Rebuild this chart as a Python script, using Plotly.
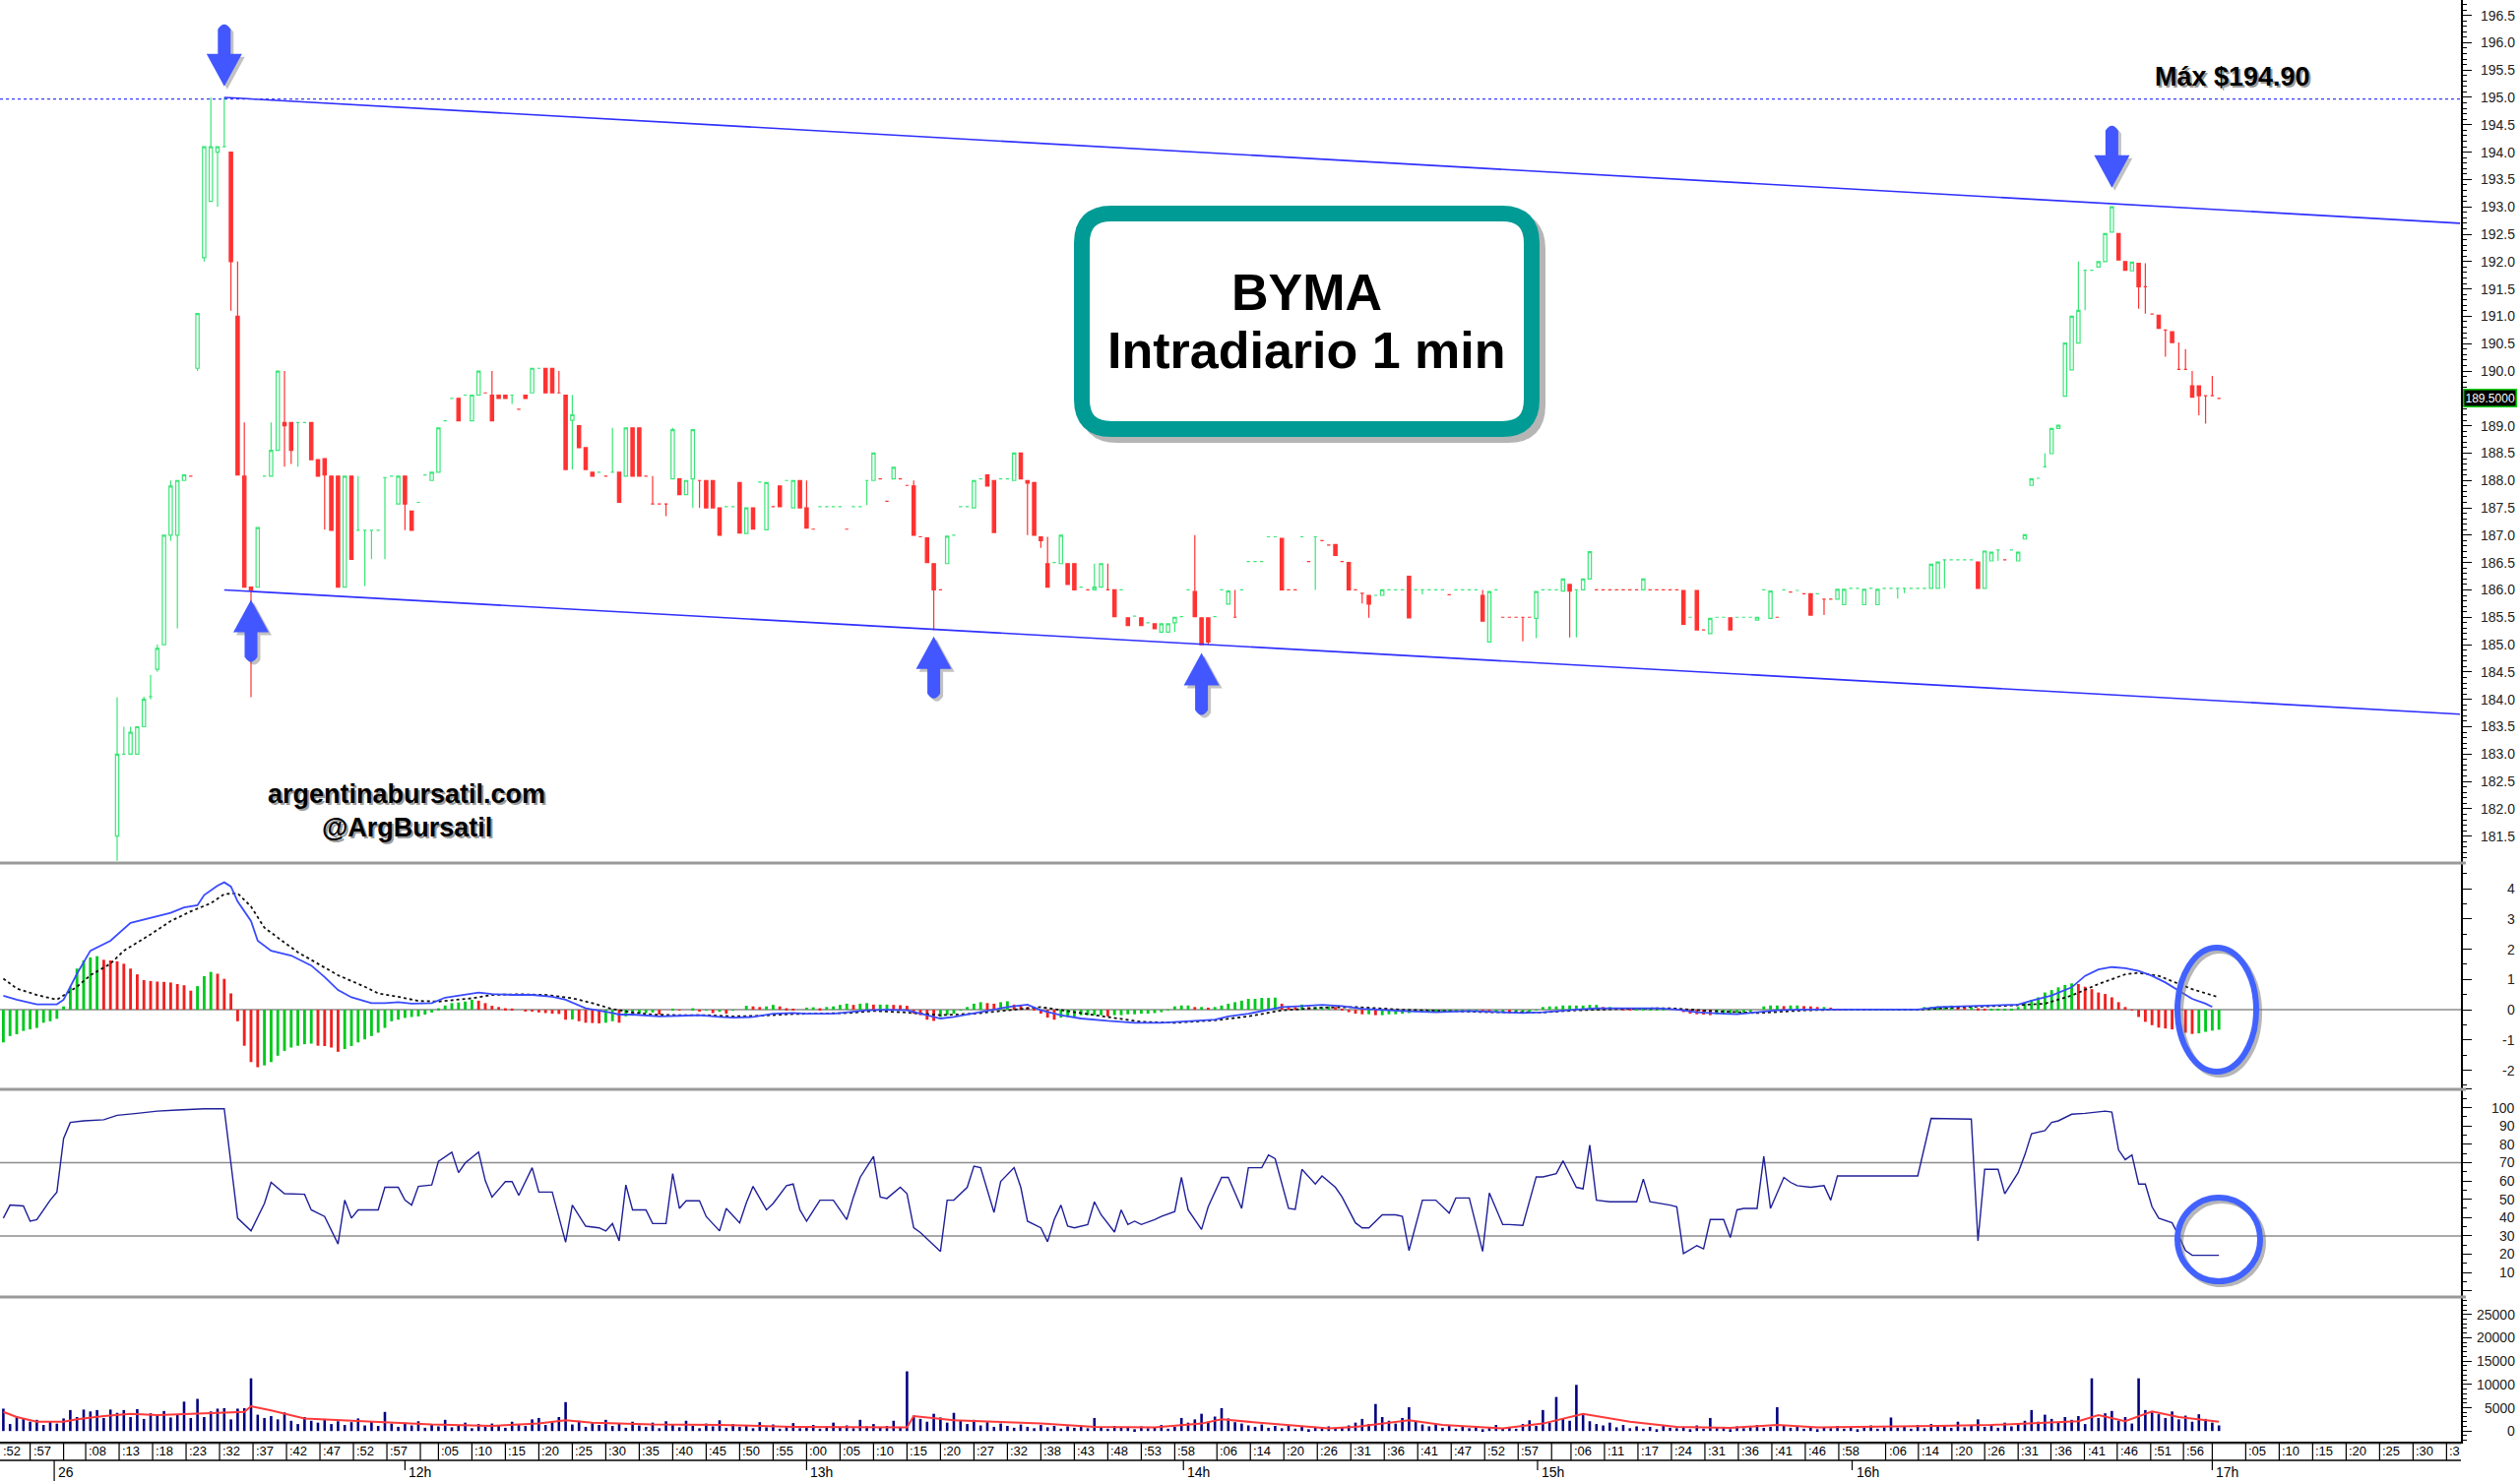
import plotly.graph_objects as go

# ---------------- DATA ----------------
first_candle_bar = 17
opens = [
    181.50,183.00,183.00,183.00,183.50,184.05,184.55,185.00,187.00,187.00,
    188.00,188.08,190.05,192.07,193.10,194.00,194.10,194.00,191.00,188.08,
    186.05,186.05,188.08,188.08,188.55,189.06,189.06,189.06,189.06,189.06,
    188.38,188.40,188.08,188.08,186.05,188.08,187.09,187.09,187.09,187.09,
    188.05,188.08,187.57,188.08,187.44,187.60,188.10,188.00,188.15,189.09,
    189.50,189.50,189.56,189.09,189.56,189.60,189.56,189.56,189.56,189.56,
    189.30,189.56,189.60,190.05,190.05,190.05,189.60,189.56,189.10,189.00,
    188.60,188.15,188.15,188.08,188.15,188.15,188.08,188.96,188.96,188.08,
    187.57,187.57,187.57,188.03,188.03,187.74,188.03,188.00,188.00,188.00,
    187.50,187.52,187.52,187.96,187.03,187.50,187.97,187.10,187.52,187.90,
    188.00,187.50,188.00,187.50,187.11,187.52,187.52,187.52,187.52,187.11,
    187.52,187.52,188.00,188.00,188.03,187.62,188.03,188.03,187.91,187.90,
    186.97,186.95,186.48,186.00,186.48,187.00,187.52,187.52,187.50,188.03,
    188.10,188.00,188.03,188.03,188.00,188.50,188.00,187.96,186.97,186.48,
    186.50,186.48,186.48,186.48,186.05,186.00,186.00,186.05,186.00,186.00,
    186.00,185.49,185.52,185.49,185.40,185.38,185.23,185.23,185.40,185.51,
    186.00,185.97,185.49,185.49,185.51,186.00,185.74,185.50,186.00,186.52,
    186.52,186.52,186.97,186.97,186.94,186.00,186.00,186.97,186.52,186.97,
    186.90,186.82,186.83,186.52,186.50,186.00,185.94,185.90,185.90,185.90,
    186.00,186.00,186.00,186.25,186.00,186.00,186.00,186.00,186.00,185.91,
    186.00,186.00,186.00,186.00,185.90,185.05,186.00,185.50,185.50,185.50,
    185.50,185.50,185.48,186.00,186.00,186.00,185.98,186.10,186.00,186.00,
    186.20,186.00,186.00,186.00,186.00,186.00,186.00,186.00,186.00,186.00,
    186.00,186.00,186.00,186.00,185.99,185.50,185.99,185.27,185.20,185.50,
    185.50,185.49,185.50,185.50,185.50,185.45,186.00,185.48,185.50,186.00,
    185.96,185.99,185.93,185.93,185.93,185.83,185.83,185.83,185.73,186.03,
    186.03,185.73,186.03,185.73,186.03,186.03,186.03,186.03,186.03,186.03,
    186.03,186.03,186.03,186.55,186.55,186.55,186.55,186.55,186.51,186.03,
    186.53,186.73,186.55,186.73,186.53,186.93,187.91,188.04,188.25,188.49,
    188.95,189.54,190.02,190.51,191.84,191.84,191.90,192.00,192.54,192.51,
    192.00,191.83,191.97,191.54,191.04,191.02,190.75,190.72,190.03,190.03,
    189.73,189.73,189.55,189.55,189.50,
]
highs = [
    184.04,183.50,183.50,183.50,184.05,184.45,185.00,187.00,188.00,188.00,
    188.10,188.08,191.05,194.10,195.00,194.10,195.00,194.00,192.00,189.06,
    186.05,187.14,188.08,189.06,190.00,190.00,189.06,189.06,189.06,189.06,
    188.38,188.40,188.08,188.08,188.08,188.08,188.08,187.09,187.09,187.09,
    188.05,188.08,188.08,188.08,187.44,187.60,188.10,188.15,188.96,189.09,
    189.50,189.50,189.56,189.56,190.00,189.60,190.00,189.56,189.56,189.56,
    189.30,189.56,190.05,190.05,190.05,190.05,190.00,189.56,189.56,189.00,
    188.60,188.15,188.15,188.08,188.96,188.15,188.96,188.96,188.96,188.08,
    188.08,187.57,187.57,188.96,188.03,188.00,188.93,188.00,188.00,188.00,
    187.50,187.52,187.52,187.96,187.50,187.50,187.97,187.96,187.52,187.90,
    188.00,188.00,188.00,188.00,187.11,187.52,187.52,187.52,187.52,187.11,
    187.52,187.52,188.00,188.50,188.03,187.62,188.24,188.03,187.91,188.00,
    186.97,186.95,186.48,186.00,186.98,187.00,187.52,187.52,188.00,188.03,
    188.10,188.00,188.03,188.03,188.50,188.50,188.00,187.96,186.97,186.97,
    186.50,187.00,186.48,186.48,186.05,186.00,186.48,186.48,186.48,186.00,
    186.00,185.49,185.52,185.49,185.40,185.38,185.38,185.38,185.50,185.51,
    186.00,187.00,185.49,185.49,185.51,186.00,186.00,186.00,186.00,186.52,
    186.52,186.52,186.97,186.97,186.94,186.00,186.00,186.97,186.52,186.97,
    186.90,186.82,186.83,186.52,186.50,186.00,185.94,185.90,185.90,186.00,
    186.00,186.00,186.00,186.25,186.00,186.00,186.00,186.00,186.00,185.91,
    186.00,186.00,186.00,186.00,186.00,185.97,186.00,185.50,185.50,185.50,
    185.50,185.50,185.97,186.00,186.00,186.00,186.20,186.10,186.00,186.20,
    186.70,186.00,186.00,186.00,186.00,186.00,186.00,186.00,186.20,186.00,
    186.00,186.00,186.00,186.00,185.99,185.50,185.99,185.27,185.48,185.50,
    185.50,185.49,185.50,185.50,185.50,185.50,186.00,185.98,185.50,186.00,
    185.96,185.99,185.93,185.93,185.93,185.83,185.83,186.01,186.01,186.03,
    186.03,186.01,186.03,186.01,186.03,186.03,186.03,186.03,186.03,186.03,
    186.03,186.47,186.51,186.55,186.55,186.55,186.55,186.55,186.51,186.71,
    186.69,186.73,186.55,186.73,186.69,187.01,188.03,188.04,188.50,188.95,
    189.01,190.51,191.00,192.00,191.84,191.84,192.00,192.51,193.01,192.51,
    192.00,191.99,191.97,191.97,191.04,191.02,190.75,190.72,190.52,190.40,
    190.00,189.73,189.55,189.91,189.50,
]
lows = [
    181.05,183.00,183.00,183.00,183.50,184.00,184.50,185.00,186.90,185.30,
    188.00,188.08,190.00,192.00,193.10,193.00,194.10,191.10,188.10,186.05,
    184.04,186.05,188.08,188.08,188.55,188.25,188.30,188.25,189.06,188.38,
    188.08,187.10,187.09,186.05,186.05,186.56,187.09,186.07,186.56,187.09,
    186.56,188.08,187.57,187.09,187.09,187.60,188.10,188.00,188.15,189.09,
    189.50,189.09,189.56,189.09,189.56,189.60,189.09,189.50,189.50,189.40,
    189.30,189.50,189.60,190.05,189.60,189.60,189.60,188.20,188.20,188.60,
    188.20,188.08,188.15,188.08,188.15,187.60,188.08,188.08,188.08,188.08,
    187.57,187.57,187.35,188.03,187.74,187.74,187.50,187.50,187.50,187.50,
    187.00,187.52,187.52,187.04,187.03,187.11,187.97,187.10,187.52,187.52,
    188.00,187.50,187.50,187.13,187.11,187.52,187.52,187.52,187.52,187.11,
    187.52,187.52,187.55,188.00,188.03,187.62,188.03,188.03,187.91,187.00,
    186.97,186.50,185.26,186.00,186.48,187.00,187.52,187.52,187.50,188.03,
    187.90,187.05,188.03,188.03,188.00,188.03,187.00,187.00,186.77,186.05,
    186.50,186.48,186.10,186.00,186.05,186.00,186.00,186.05,186.00,185.51,
    186.00,185.35,185.52,185.35,185.40,185.29,185.23,185.23,185.23,185.51,
    186.00,185.51,184.99,185.00,185.51,186.00,185.74,185.50,186.00,186.52,
    186.52,186.52,186.97,186.97,186.00,186.00,186.00,186.97,186.52,186.00,
    186.90,186.82,186.63,186.52,186.00,186.00,185.75,185.49,185.90,185.90,
    186.00,186.00,186.00,185.49,186.00,185.92,186.00,186.00,186.00,185.91,
    186.00,186.00,186.00,186.00,185.43,185.05,186.00,185.50,185.50,185.50,
    185.06,185.50,185.12,186.00,186.00,186.00,185.98,185.13,185.13,186.00,
    186.20,186.00,186.00,186.00,186.00,186.00,186.00,186.00,186.00,186.00,
    186.00,186.00,186.00,186.00,185.37,185.50,185.27,185.27,185.20,185.50,
    185.50,185.27,185.50,185.50,185.50,185.45,186.00,185.48,185.50,186.00,
    185.96,185.99,185.93,185.54,185.93,185.54,185.83,185.83,185.73,186.03,
    186.03,185.73,186.03,185.73,186.03,186.03,185.84,185.94,186.03,186.03,
    186.03,186.03,186.03,186.03,186.55,186.55,186.55,186.55,186.03,186.03,
    186.53,186.53,186.55,186.73,186.53,186.93,187.91,188.04,188.25,188.49,
    188.95,189.54,190.02,190.51,191.11,191.84,191.90,192.00,192.54,192.03,
    191.84,191.83,191.14,191.05,191.04,190.78,190.26,190.52,190.03,190.03,
    189.52,189.19,189.04,189.55,189.50,
]
closes = [
    183.00,183.00,183.40,183.50,184.00,184.05,184.93,187.00,187.90,188.00,
    188.10,188.08,191.05,194.10,194.10,194.10,194.10,192.00,188.10,186.05,
    186.00,187.14,188.08,188.55,190.00,189.00,188.55,189.06,189.06,188.38,
    188.08,188.10,187.09,186.05,188.08,186.56,187.09,187.09,187.09,187.09,
    188.05,188.08,188.08,187.57,187.09,187.60,188.10,188.15,188.96,189.09,
    189.50,189.09,189.56,189.56,190.00,189.60,189.09,189.50,189.50,189.56,
    189.30,189.50,190.05,190.05,189.60,189.60,189.60,188.20,189.20,188.60,
    188.20,188.08,188.15,188.08,188.15,187.60,188.96,188.08,188.08,188.08,
    187.57,187.57,187.57,188.93,187.74,188.00,188.93,188.00,187.50,187.50,
    187.00,187.52,187.52,187.04,187.50,187.11,187.97,187.96,187.52,187.52,
    188.00,188.00,187.50,187.13,187.11,187.52,187.52,187.52,187.52,187.11,
    187.52,187.52,188.00,188.50,188.03,187.62,188.24,188.03,187.91,187.00,
    186.97,186.50,186.00,186.00,186.98,187.00,187.52,187.52,188.00,188.03,
    187.90,187.05,188.03,188.03,188.50,188.03,187.95,187.00,186.90,186.05,
    186.50,187.00,186.10,186.00,186.05,186.00,186.05,186.48,186.00,185.51,
    186.00,185.35,185.52,185.35,185.40,185.29,185.38,185.38,185.50,185.51,
    186.00,185.51,185.00,185.05,185.51,186.00,185.98,185.50,186.00,186.52,
    186.52,186.52,186.97,186.97,186.00,186.00,186.00,186.97,186.52,186.97,
    186.90,186.82,186.63,186.52,186.00,186.00,185.94,185.74,185.90,186.00,
    186.00,186.00,186.00,185.49,186.00,186.00,186.00,186.00,186.00,185.91,
    186.00,186.00,186.00,186.00,185.43,185.97,186.00,185.50,185.50,185.50,
    185.50,185.50,185.97,186.00,186.00,186.00,186.20,185.98,186.00,186.20,
    186.70,186.00,186.00,186.00,186.00,186.00,186.00,186.00,186.20,186.00,
    186.00,186.00,186.00,186.00,185.37,185.50,185.27,185.27,185.48,185.50,
    185.50,185.27,185.50,185.50,185.50,185.50,186.00,185.98,185.50,186.00,
    185.96,185.99,185.93,185.54,185.93,185.83,185.83,186.01,186.01,186.03,
    186.03,186.01,186.03,186.01,186.03,186.03,186.03,186.03,186.03,186.03,
    186.03,186.47,186.51,186.55,186.55,186.55,186.55,186.55,186.03,186.71,
    186.69,186.73,186.55,186.73,186.69,187.01,188.03,188.04,188.25,188.95,
    189.01,190.51,191.00,191.11,191.84,191.84,192.00,192.51,193.00,192.03,
    191.84,191.99,191.54,191.54,191.04,190.78,190.75,190.52,190.03,190.03,
    189.52,189.55,189.55,189.55,189.50,
]

volume = [
    4800,1500,3200,2600,2000,2400,1300,2100,1600,2700,
    4500,3000,4600,4200,4500,2800,4600,3900,4500,3000,
    4700,2600,3800,3300,4300,2900,3500,6300,2800,6900,
    3000,4200,4800,4900,2500,4800,4900,11300,3500,2800,
    3200,2500,4000,2200,1500,3000,2200,1800,2600,1500,
    2100,1300,1900,2700,1200,2000,1100,4100,1600,900,
    1800,1200,2100,700,1500,1000,2400,800,1300,1800,
    600,1500,900,1600,1200,700,2000,1400,1100,2500,
    2800,1300,1900,3000,6200,1400,2200,900,1700,1300,
    2400,1100,1600,700,2000,1200,900,1800,600,2100,
    1300,800,2200,1100,600,1600,1000,2300,700,1500,
    900,1200,600,1900,800,1400,500,1100,1700,600,
    900,1300,500,1000,1800,700,1200,600,2400,1000,
    1500,800,1100,2200,900,12800,3300,2600,2000,3700,
    2900,1800,3900,2200,1500,2400,1200,1900,900,1600,
    1100,700,1400,900,600,1300,800,1100,500,1000,
    700,1200,600,2800,900,500,1100,700,900,400,
    1000,600,800,1300,500,900,2800,1800,2500,3700,
    2000,3100,4900,2700,1900,1600,1200,900,1400,700,
    1100,600,1300,500,900,400,800,600,1000,500,
    700,1200,1800,2600,1500,5800,3000,2200,1600,2800,
    5100,2000,1400,1000,1600,700,1200,500,900,600,
    1100,400,800,1300,600,900,500,1500,2300,1100,
    4500,1800,7300,2600,2200,9900,3400,2100,1500,1200,
    1800,800,1300,600,1000,500,900,400,1100,700,
    600,900,400,1200,500,2800,700,900,400,1000,
    600,800,1300,700,900,5100,1200,700,1000,500,
    900,400,800,600,1100,500,900,400,700,1200,
    500,800,2900,700,1000,500,1300,600,1500,900,
    1200,700,2000,800,1100,2500,900,1400,700,1800,
    1000,1600,2200,4500,2000,3500,2600,1800,3000,2400,
    3200,1500,11300,2800,3800,4300,2200,3000,1600,11300,
    4500,4000,3600,2800,4200,2500,3300,2000,3600,2600,
    1800,1200,
]
vol_ma_bars = [0,2,5,9,11,15,19,23,28,32,36,37,40,45,51,58,64,73,80,84,88,97,107,118,129,
               135,136,142,148,155,163,172,179,182,189,198,202,210,215,224,230,236,243,250,
               258,265,271,280,289,297,304,310,313,317,321,325,331]
vol_ma_vals = [4100,3000,2000,2000,2500,3200,3700,3400,3700,3900,4100,5300,4400,2700,2300,
               1800,1400,1100,1600,2300,1800,1400,1300,900,800,800,3200,2300,2000,1600,900,
               800,1600,2500,1600,560,900,2300,1300,560,1600,3700,2000,900,700,1300,800,900,
               1100,1300,1800,2100,3400,2100,4200,3000,2000]

macd_hist = [
    -1.08,-0.87,-0.81,-0.70,-0.65,-0.60,-0.43,-0.38,-0.30,0.11,
    0.76,1.36,1.63,1.73,1.77,1.65,1.63,1.60,1.52,1.36,
    1.17,0.98,0.95,0.93,0.92,0.90,0.85,0.81,0.63,0.78,
    1.11,1.25,1.19,1.02,0.54,-0.38,-1.19,-1.73,-1.90,-1.84,
    -1.73,-1.52,-1.36,-1.25,-1.19,-1.14,-1.12,-1.19,-1.20,-1.25,
    -1.39,-1.30,-1.20,-1.08,-0.98,-0.87,-0.76,-0.60,-0.38,-0.33,
    -0.27,-0.24,-0.22,-0.16,-0.09,0.05,0.14,0.22,0.24,0.27,
    0.33,0.30,0.22,0.13,0.09,0.05,0.04,0.00,-0.03,-0.05,
    -0.09,-0.11,-0.13,-0.14,-0.33,-0.32,-0.38,-0.43,-0.44,-0.45,
    -0.43,-0.38,-0.43,-0.22,-0.20,-0.13,-0.11,-0.09,-0.16,0.00,
    0.02,-0.02,0.00,0.05,-0.05,-0.02,-0.11,-0.07,-0.13,-0.02,
    0.00,0.13,0.11,0.09,0.11,0.16,0.11,0.05,0.02,0.00,
    0.07,0.08,0.05,0.09,0.11,0.16,0.20,0.16,0.20,0.22,
    0.17,0.17,0.17,0.16,0.15,0.13,-0.13,-0.18,-0.33,-0.37,
    -0.24,-0.18,-0.13,-0.02,0.09,0.20,0.25,0.22,0.20,0.25,
    0.28,0.17,0.16,0.09,0.05,-0.13,-0.26,-0.33,-0.26,-0.24,
    -0.23,-0.18,-0.18,-0.18,-0.18,-0.22,-0.18,-0.18,-0.15,-0.15,
    -0.13,-0.13,-0.11,-0.08,-0.02,0.11,0.14,0.14,0.09,0.09,
    0.07,0.09,0.14,0.20,0.25,0.30,0.36,0.36,0.39,0.39,
    0.40,0.20,0.11,0.09,0.17,0.09,0.09,0.09,0.11,0.09,
    0.03,-0.08,-0.13,-0.15,-0.15,-0.18,-0.18,-0.15,-0.15,-0.13,
    -0.11,-0.08,-0.08,-0.08,-0.04,-0.04,-0.04,-0.02,-0.02,-0.02,
    -0.02,-0.04,-0.08,-0.08,-0.08,-0.11,-0.11,-0.11,-0.11,-0.02,
    0.09,0.11,0.11,0.14,0.14,0.14,0.14,0.16,0.16,0.09,
    0.09,0.07,0.03,0.02,0.02,0.02,0.02,0.02,0.02,0.00,
    -0.02,-0.08,-0.13,-0.15,-0.16,-0.18,-0.15,-0.13,-0.13,-0.11,
    -0.11,-0.08,0.00,0.11,0.14,0.14,0.12,0.14,0.14,0.12,
    0.11,0.09,0.09,0.07,0.03,0.02,0.02,0.02,0.01,0.01,
    0.01,0.01,0.01,0.01,0.01,0.02,0.03,0.09,0.09,0.11,
    0.12,0.14,0.12,0.09,0.09,0.05,0.03,0.03,0.03,0.03,
    0.03,0.09,0.25,0.33,0.41,0.57,0.65,0.74,0.82,0.87,
    0.85,0.76,0.68,0.57,0.52,0.41,0.25,0.09,-0.02,-0.24,
    -0.40,-0.51,-0.59,-0.62,-0.65,-0.69,-0.76,-0.80,-0.78,-0.73,
    -0.69,-0.66,
]
macd_line_bars = [0,2,5,8,9,11,13,16,19,22,25,27,29,30,32,33,34,35,37,38,40,43,46,48,50,
                  52,55,57,59,61,64,66,70,71,73,76,79,82,84,87,91,92,94,97,98,101,104,107,
                  109,112,115,118,120,124,126,129,132,135,138,140,142,146,150,153,155,158,
                  161,165,169,173,177,181,183,186,189,191,194,197,200,203,209,214,219,225,
                  227,230,233,235,238,242,247,250,253,257,259,262,265,269,273,277,282,286,
                  289,293,297,301,303,306,309,311,313,315,317,319,321,323,325,327,329,330]
macd_line_vals = [0.46,0.33,0.18,0.18,0.33,1.19,1.95,2.28,2.87,3.04,3.20,3.38,3.45,3.79,4.10,
                  4.21,4.07,3.58,2.93,2.28,1.95,1.79,1.46,1.08,0.65,0.41,0.22,0.22,0.25,0.20,
                  0.22,0.40,0.52,0.57,0.52,0.49,0.49,0.43,0.33,0.05,-0.11,-0.16,-0.16,-0.20,
                  -0.22,-0.20,-0.18,-0.24,-0.26,-0.24,-0.13,-0.11,-0.13,-0.13,-0.09,-0.02,0.00,
                  -0.02,-0.18,-0.29,-0.24,-0.08,0.09,0.17,-0.02,-0.18,-0.29,-0.37,-0.43,-0.43,
                  -0.37,-0.33,-0.22,-0.13,0.00,0.09,0.12,0.16,0.12,0.03,-0.04,-0.08,-0.04,-0.11,
                  -0.11,-0.08,-0.02,0.01,0.05,0.05,0.05,0.01,-0.08,-0.13,-0.15,-0.08,-0.02,0.01,
                  0.01,0.00,0.00,0.01,0.09,0.12,0.14,0.17,0.30,0.47,0.74,1.12,1.33,1.41,1.37,
                  1.28,1.12,0.90,0.63,0.36,0.20,0.09]
signal_bars = [0,2,5,8,11,13,16,18,22,25,28,31,33,35,37,39,42,44,47,50,54,56,59,62,65,70,73,
               77,81,85,88,91,94,97,101,105,109,113,118,122,126,130,134,140,145,150,155,160,
               165,170,175,181,186,191,197,202,209,215,222,230,235,242,249,255,262,269,275,
               286,293,299,305,309,313,317,319,322,325,327,331]
signal_vals = [1.03,0.70,0.49,0.33,0.76,1.14,1.52,1.95,2.49,2.93,3.25,3.52,3.82,3.85,3.41,2.71,
               2.22,1.90,1.52,1.14,0.76,0.54,0.43,0.29,0.27,0.38,0.49,0.51,0.49,0.38,0.22,0.02,
               -0.09,-0.16,-0.18,-0.18,-0.22,-0.20,-0.14,-0.12,-0.11,-0.04,-0.08,-0.18,-0.13,
               -0.02,0.09,-0.08,-0.24,-0.40,-0.43,-0.35,-0.22,-0.02,0.07,0.09,0.00,-0.04,-0.08,
               -0.09,-0.02,0.03,0.05,-0.04,-0.11,-0.02,0.01,0.00,0.09,0.13,0.20,0.47,0.85,1.17,
               1.22,1.12,0.85,0.68,0.41]

stoch_bars = [0,1,3,4,5,7,8,9,10,12,15,17,20,23,26,30,33,34,35,37,38,39,40,42,45,46,48,50,51,
              52,53,56,57,59,60,61,62,64,65,67,68,69,71,72,73,75,76,77,79,80,82,84,85,87,89,
              90,91,92,93,94,96,97,99,100,101,102,104,105,107,108,110,111,112,114,115,117,118,
              119,120,122,124,126,127,128,130,131,132,134,135,136,137,139,140,141,142,144,145,
              146,148,149,151,152,153,155,156,157,158,159,160,162,163,164,166,167,168,169,170,
              172,173,175,176,177,179,180,182,183,185,186,188,189,190,192,193,194,196,197,199,
              200,202,203,204,206,208,209,210,212,214,216,217,219,221,222,224,225,227,229,230,
              232,233,235,236,237,238,240,242,244,245,246,249,250,251,253,254,255,257,258,259,
              260,262,263,264,266,267,268,270,272,273,274,276,280,286,288,291,294,295,296,298,
              299,301,302,303,305,306,307,309,311,314,315,316,317,318,319,320,321,322,324,325,
              326,327,331]
stoch_vals = [39.7,46.8,46.3,38.0,38.9,49.5,53.9,83.1,91.9,92.8,93.4,95.8,96.9,98.1,98.7,99.4,
              99.4,68.9,39.7,32.7,40.6,47.7,59.2,53.0,52.7,44.2,40.6,25.6,49.5,39.7,44.2,44.2,
              56.5,56.5,49.5,46.8,57.0,57.8,70.7,75.7,64.5,69.8,75.7,60.1,51.2,59.6,59.6,52.1,
              67.2,53.9,53.9,26.5,46.8,35.3,34.4,32.7,36.7,27.3,57.8,44.2,44.2,36.7,36.7,64.0,
              45.0,49.1,49.1,40.6,32.7,45.0,37.1,48.1,57.0,44.2,47.7,57.4,58.3,44.2,38.0,49.5,
              49.5,38.9,51.2,61.9,73.4,51.2,50.4,56.5,53.0,34.4,31.8,24.7,21.5,49.5,49.5,56.5,
              68.0,67.2,42.8,59.7,67.2,56.5,38.0,34.4,26.8,38.9,46.8,35.3,34.4,36.2,48.6,41.5,
              32.1,44.2,36.2,38.0,36.2,38.9,40.6,43.3,61.9,44.2,33.5,45.9,61.9,61.9,45.0,67.2,
              67.2,74.2,72.1,45.0,44.5,66.3,58.3,62.7,56.5,51.2,37.1,34.4,34.4,41.5,41.5,40.6,
              22.0,49.5,49.5,42.4,50.7,50.7,21.5,53.4,36.2,36.2,35.7,62.2,62.2,64.0,71.0,56.5,
              55.7,79.6,49.5,48.6,48.6,48.6,61.0,48.6,46.8,45.9,20.3,24.7,22.9,38.9,38.9,29.1,
              44.2,45.0,45.0,73.4,45.0,61.9,59.2,57.4,56.5,57.4,49.5,62.7,62.7,62.7,62.7,94.1,
              94.1,93.7,27.3,66.3,66.3,53.0,64.5,74.2,85.8,87.5,91.9,92.8,96.4,96.9,98.1,97.6,
              76.9,71.6,74.2,58.3,58.3,45.9,39.7,37.1,30.0,22.0,19.4,19.4]

# channel (trend lines) anchor points and max line
channel_bars = [33, 367]
channel_upper = [195.00, 192.70]
channel_lower = [186.00, 183.73]
max_price_level = 194.97
last_price = 189.50

# annotation arrows: bar, price at tip, direction
arrow_bars = [33, 37, 139, 179, 315]
arrow_prices = [195.20, 185.82, 185.15, 184.85, 193.35]
arrow_dirs = ["down", "up", "up", "up", "down"]

# axis ticks / labels
price_ticks = [181.5,182.0,182.5,183.0,183.5,184.0,184.5,185.0,185.5,186.0,186.5,187.0,187.5,
               188.0,188.5,189.0,189.5,190.0,190.5,191.0,191.5,192.0,192.5,193.0,193.5,194.0,
               194.5,195.0,195.5,196.0,196.5]
macd_ticks = [-2, -1, 0, 1, 2, 3, 4]
stoch_ticks = [10, 20, 30, 40, 50, 60, 70, 80, 90, 100]
vol_ticks = [0, 5000, 10000, 15000, 20000, 25000]
stoch_levels = [30, 70]

minute_tick_bars = [-0.5, 4.0, 9.0, 12.3, 17.3, 22.3, 27.3, 32.3, 37.3, 42.3, 47.3, 52.3, 57.3, 62.3,
                    65, 70, 75, 80, 85, 90, 95, 100, 105, 110, 115,
                    120, 125, 130, 135, 140, 145, 150, 155, 160, 165, 170, 175,
                    181.3, 186.3, 191.3, 196.3, 201.3, 206.3, 211.3, 216.3, 221.3, 226.3, 231.3,
                    234.2, 239.2, 244.2, 249.2, 254.2, 259.2, 264.2, 269.2, 274.2,
                    281.2, 286.1, 291.1, 296.0, 301.0, 305.9, 310.9, 315.8, 320.8, 325.7, 330.0,
                    335.0, 340.0, 345.0, 350.0, 355.0, 360.0, 365.0]
minute_tick_labels = [":52", ":57", "", ":08", ":13", ":18", ":23", ":32", ":37", ":42", ":47", ":52", ":57", "",
                      ":05", ":10", ":15", ":20", ":25", ":30", ":35", ":40", ":45", ":50", ":55",
                      ":00", ":05", ":10", ":15", ":20", ":27", ":32", ":38", ":43", ":48", ":53", ":58",
                      ":06", ":14", ":20", ":26", ":31", ":36", ":41", ":47", ":52", ":57", "",
                      ":06", ":11", ":17", ":24", ":31", ":36", ":41", ":46", ":58",
                      ":06", ":14", ":20", ":26", ":31", ":36", ":41", ":46", ":51", ":56", "",
                      ":05", ":10", ":15", ":20", ":25", ":30", ":3"]
hour_tick_bars = [7.6, 60.0, 120.0, 176.3, 229.2, 276.2, 330.0]
hour_tick_labels = ["26", "12h", "13h", "14h", "15h", "16h", "17h"]

# ---------------- STYLE / LAYOUT CONSTANTS ----------------
GREEN = "#3ce678"
RED = "#ff3232"
ARROW_BLUE = "#4257ff"
FONT = "Liberation Sans, Arial, sans-serif"
X_RANGE = [-0.5, 367.15]
DOM_MAIN = [0.4014, 1.0]
DOM_MACD = [0.2444, 0.4014]
DOM_STOCH = [0.1003, 0.2444]
DOM_VOL = [0.0, 0.1003]
PLOT_H = 1465.0
PLOT_W = 2500.0

fig = go.Figure()

candle_bars = list(range(first_candle_bar, first_candle_bar + len(closes)))
fig.add_trace(go.Candlestick(
    x=candle_bars, open=opens, high=highs, low=lows, close=closes,
    increasing=dict(line=dict(color=GREEN, width=1.2), fillcolor="white"),
    decreasing=dict(line=dict(color=RED, width=1.2), fillcolor=RED),
    whiskerwidth=0, xaxis="x", yaxis="y", showlegend=False, hoverinfo="skip"))

for ys in (channel_upper, channel_lower):
    fig.add_trace(go.Scatter(x=channel_bars, y=ys, mode="lines",
                             line=dict(color="#2f2fff", width=1.6),
                             xaxis="x", yaxis="y", showlegend=False, hoverinfo="skip"))

# MACD histogram (green when rising, red when falling)
hist_colors = []
for i, v in enumerate(macd_hist):
    prev = macd_hist[i - 1] if i > 0 else v - 1
    hist_colors.append("#00c81e" if v >= prev else "#f02020")
fig.add_trace(go.Bar(x=list(range(len(macd_hist))), y=macd_hist, marker_color=hist_colors,
                     marker_line_width=0, width=0.42, xaxis="x", yaxis="y2",
                     showlegend=False, hoverinfo="skip"))
fig.add_trace(go.Scatter(x=signal_bars, y=signal_vals, mode="lines",
                         line=dict(color="#111111", width=1.8, dash="dot"),
                         xaxis="x", yaxis="y2", showlegend=False, hoverinfo="skip"))
fig.add_trace(go.Scatter(x=macd_line_bars, y=macd_line_vals, mode="lines",
                         line=dict(color="#3a4bff", width=1.8),
                         xaxis="x", yaxis="y2", showlegend=False, hoverinfo="skip"))

n_st = min(len(stoch_bars), len(stoch_vals))
fig.add_trace(go.Scatter(x=stoch_bars[:n_st], y=stoch_vals[:n_st], mode="lines",
                         line=dict(color="#1f1f9a", width=1.4),
                         xaxis="x", yaxis="y3", showlegend=False, hoverinfo="skip"))

fig.add_trace(go.Bar(x=list(range(len(volume))), y=volume, marker_color="#00007f",
                     marker_line_width=0, width=0.38, xaxis="x", yaxis="y4",
                     showlegend=False, hoverinfo="skip"))
fig.add_trace(go.Scatter(x=vol_ma_bars, y=vol_ma_vals, mode="lines",
                         line=dict(color="#ff3a3a", width=2),
                         xaxis="x", yaxis="y4", showlegend=False, hoverinfo="skip"))

def yaxis_cfg(domain, rng, dtick, tick0, minor_dtick):
    return dict(domain=domain, range=rng, side="right", anchor="x", showgrid=False,
                zeroline=False, showline=True, linecolor="black", linewidth=1.5,
                ticks="outside", ticklen=9, tickcolor="black", tickwidth=1.2,
                dtick=dtick, tick0=tick0, showticklabels=False, fixedrange=True,
                minor=dict(dtick=minor_dtick, ticks="outside", ticklen=4,
                           tickcolor="black", tickwidth=1, showgrid=False))

shapes = []
annotations = []

# panel separators
for yp in (DOM_MAIN[0], DOM_MACD[0], DOM_STOCH[0]):
    shapes.append(dict(type="line", xref="paper", yref="paper", x0=0, x1=1.002, y0=yp, y1=yp,
                       line=dict(color="#9a9a9a", width=3), layer="above"))
# reference lines
shapes.append(dict(type="line", xref="paper", yref="y2", x0=0, x1=1, y0=0, y1=0,
                   line=dict(color="#8c8c8c", width=1.5), layer="below"))
for lv in stoch_levels:
    shapes.append(dict(type="line", xref="paper", yref="y3", x0=0, x1=1, y0=lv, y1=lv,
                       line=dict(color="#8c8c8c", width=1.5), layer="below"))
# max dotted line
shapes.append(dict(type="line", xref="paper", yref="y", x0=0, x1=1, y0=max_price_level,
                   y1=max_price_level, line=dict(color="#3b3bff", width=1.3, dash="dot")))

# arrows
def arrow_path(direction, dx=0.0, dy=0.0):
    s = 1 if direction == "down" else -1
    pts = [(0, 0), (-18, 33 * s), (-6.5, 33 * s), (-6.5, 58 * s)]
    p = "M %.1f,%.1f " % (pts[0][0] + dx, pts[0][1] + dy)
    for x, y in pts[1:]:
        p += "L %.1f,%.1f " % (x + dx, y + dy)
    p += "Q %.1f,%.1f %.1f,%.1f " % (0 + dx, 68 * s + dy, 6.5 + dx, 58 * s + dy)
    p += "L %.1f,%.1f L %.1f,%.1f Z" % (6.5 + dx, 33 * s + dy, 18 + dx, 33 * s + dy)
    return p

for b, pr, d in zip(arrow_bars, arrow_prices, arrow_dirs):
    shapes.append(dict(type="path", xref="x", yref="y", xsizemode="pixel", ysizemode="pixel",
                       xanchor=b, yanchor=pr, path=arrow_path(d, 3, -3),
                       fillcolor="rgba(80,80,80,0.35)", line=dict(width=0)))
    shapes.append(dict(type="path", xref="x", yref="y", xsizemode="pixel", ysizemode="pixel",
                       xanchor=b, yanchor=pr, path=arrow_path(d),
                       fillcolor=ARROW_BLUE, line=dict(width=0)))

# title box (rounded)
def rrect(w, h, r, dx=0.0, dy=0.0):
    return ("M {a},{b} L {c},{b} Q {w},{b} {w},{e} L {w},{f} Q {w},{g} {c},{g} "
            "L {a},{g} Q {x0},{g} {x0},{f} L {x0},{e} Q {x0},{b} {a},{b} Z").format(
        a=r + dx, b=0 + dy, c=w - r + dx, w=w + dx, e=-r + dy, f=-(h - r) + dy,
        g=-h + dy, x0=0 + dx)

bx, by = 1099 / PLOT_W, 1 - 217 / PLOT_H
shapes.append(dict(type="path", xref="paper", yref="paper", xsizemode="pixel", ysizemode="pixel",
                   xanchor=bx, yanchor=by, path=rrect(457, 219, 30, 6, -6),
                   line=dict(color="rgba(120,120,120,0.55)", width=16)))
shapes.append(dict(type="path", xref="paper", yref="paper", xsizemode="pixel", ysizemode="pixel",
                   xanchor=bx, yanchor=by, path=rrect(457, 219, 30),
                   fillcolor="white", line=dict(color="#009b95", width=16)))

# ellipses
for (x0, x1, y0, y1) in [(2212, 2292, 963, 1089), (2212, 2296, 1217, 1302)]:
    shapes.append(dict(type="circle", xref="paper", yref="paper",
                       x0=(x0 + 3) / PLOT_W, x1=(x1 + 3) / PLOT_W,
                       y0=1 - (y1 + 3) / PLOT_H, y1=1 - (y0 + 3) / PLOT_H,
                       line=dict(color="rgba(110,110,110,0.5)", width=6)))
    shapes.append(dict(type="circle", xref="paper", yref="paper",
                       x0=x0 / PLOT_W, x1=x1 / PLOT_W, y0=1 - y1 / PLOT_H, y1=1 - y0 / PLOT_H,
                       line=dict(color="#4262ff", width=6)))

# bottom time axis: minute boxes + hour labels
row_bottom = -19 / PLOT_H
shapes.append(dict(type="line", xref="paper", yref="paper", x0=0, x1=1, y0=row_bottom,
                   y1=row_bottom, line=dict(color="black", width=1.5)))
shapes.append(dict(type="line", xref="paper", yref="paper", x0=0, x1=1, y0=-2 / PLOT_H,
                   y1=-2 / PLOT_H, line=dict(color="#555", width=1)))
for pos, lab in zip(minute_tick_bars, minute_tick_labels):
    if pos > X_RANGE[0]:
        shapes.append(dict(type="line", xref="x", yref="paper", x0=pos, x1=pos, y0=0,
                           y1=row_bottom, line=dict(color="black", width=1.2)))
    if lab:
        annotations.append(dict(x=max(pos, X_RANGE[0]), y=row_bottom / 2, xref="x", yref="paper",
                                text=lab, showarrow=False, xanchor="left", yanchor="middle",
                                xshift=1, font=dict(family=FONT, size=13, color="black")))
for k, (pos, lab) in enumerate(zip(hour_tick_bars, hour_tick_labels)):
    y_end = -40 / PLOT_H if k == 0 else -29 / PLOT_H
    shapes.append(dict(type="line", xref="x", yref="paper", x0=pos, x1=pos, y0=row_bottom,
                       y1=y_end, line=dict(color="black", width=1.2)))
    annotations.append(dict(x=pos, y=-31 / PLOT_H, xref="x", yref="paper", text=lab,
                            showarrow=False, xanchor="left", yanchor="middle", xshift=2,
                            font=dict(family=FONT, size=14, color="black")))

# right-side tick labels (right aligned); the last-price tag covers its own level
tick_font = dict(family=FONT, size=14, color="#222222")
for v in price_ticks:
    if abs(v - last_price) < 1e-9:
        continue
    annotations.append(dict(x=1, xref="paper", y=v, yref="y", text="%.1f" % v, showarrow=False,
                            xanchor="right", yanchor="middle", xshift=57, font=tick_font))
for v in macd_ticks:
    annotations.append(dict(x=1, xref="paper", y=v, yref="y2", text=str(v), showarrow=False,
                            xanchor="right", yanchor="middle", xshift=57, font=tick_font))
for v in stoch_ticks:
    annotations.append(dict(x=1, xref="paper", y=v, yref="y3", text=str(v), showarrow=False,
                            xanchor="right", yanchor="middle", xshift=57, font=tick_font))
for v in vol_ticks:
    annotations.append(dict(x=1, xref="paper", y=v, yref="y4", text=str(v), showarrow=False,
                            xanchor="right", yanchor="middle", xshift=57, font=tick_font))

annotations.append(dict(x=1, xref="paper", y=last_price, yref="y", text="%.4f" % last_price,
                        showarrow=False, xanchor="left", yanchor="middle", xshift=2,
                        bgcolor="black", bordercolor="#00d000", borderwidth=1.5, borderpad=1,
                        font=dict(family=FONT, size=12, color="white")))

# texts
def shadow_text(x, y, text, size, shadow=True):
    if shadow:
        annotations.append(dict(x=x, y=y, xref="paper", yref="paper", text="<b>%s</b>" % text,
                                showarrow=False, xanchor="center", yanchor="middle",
                                xshift=2, yshift=-2,
                                font=dict(family=FONT, size=size, color="rgba(110,110,110,0.7)")))
    annotations.append(dict(x=x, y=y, xref="paper", yref="paper", text="<b>%s</b>" % text,
                            showarrow=False, xanchor="center", yanchor="middle",
                            font=dict(family=FONT, size=size, color="black")))

shadow_text(2268 / PLOT_W, 1 - 78 / PLOT_H, "Máx $194.90", 27)
shadow_text(413 / PLOT_W, 1 - 807 / PLOT_H, "argentinabursatil.com", 27)
shadow_text(413 / PLOT_W, 1 - 841 / PLOT_H, "@ArgBursatil", 27)
shadow_text(1327 / PLOT_W, 1 - 297 / PLOT_H, "BYMA", 52, shadow=False)
shadow_text(1327 / PLOT_W, 1 - 356 / PLOT_H, "Intradiario 1 min", 52, shadow=False)

fig.update_layout(
    width=2560, height=1506,
    margin=dict(l=0, r=60, t=0, b=41),
    paper_bgcolor="white", plot_bgcolor="white",
    barmode="overlay", showlegend=False, hovermode=False,
    font=dict(family=FONT),
    xaxis=dict(domain=[0, 1], range=X_RANGE, anchor="y4", showgrid=False, zeroline=False,
               showticklabels=False, ticks="", showline=True, linecolor="black", linewidth=2,
               rangeslider=dict(visible=False), fixedrange=True),
    yaxis=yaxis_cfg(DOM_MAIN, [181.01, 196.78], 0.5, 181.5, 0.1),
    yaxis2=yaxis_cfg(DOM_MACD, [-2.63, 4.85], 1, 0, 0.5),
    yaxis3=yaxis_cfg(DOM_STOCH, [-3.4, 110], 10, 0, 5),
    yaxis4=yaxis_cfg(DOM_VOL, [-2280, 28730], 5000, 0, 1000),
    shapes=shapes, annotations=annotations,
)

fig.write_html("out.html", config={"displayModeBar": False},
               post_script="document.body.style.margin='0px';"
                           "document.body.style.padding='0px';"
                           "document.body.style.overflow='hidden';")
